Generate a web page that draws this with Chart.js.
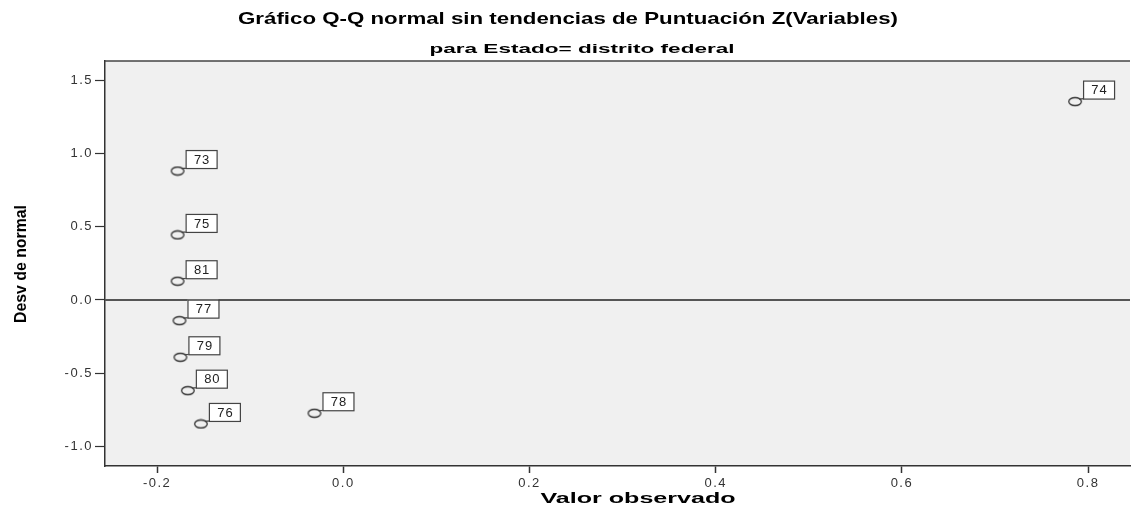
<!DOCTYPE html>
<html lang="es">
<head>
<meta charset="utf-8">
<title>Gráfico Q-Q normal sin tendencias</title>
<script src="https://cdn.jsdelivr.net/npm/chart.js@4.4.1/dist/chart.umd.min.js"></script>
<style>
  html, body { margin: 0; padding: 0; background: #ffffff; }
  #wrap { width: 1137px; height: 514px; position: relative; }
</style>
</head>
<body>
<div id="wrap"><canvas id="qqChart"></canvas></div>
<script>
// --------------
// DATA
// --------------
const caseIds = ["73", "75", "81", "77", "79", "80", "76", "78", "74"];
const observed = [-0.178, -0.178, -0.178, -0.176, -0.175, -0.167, -0.153, -0.031, 0.786];
const deviation = [0.88, 0.444, 0.128, -0.141, -0.391, -0.619, -0.846, -0.773, 1.354];

const xTickValues = [-0.2, 0.0, 0.2, 0.4, 0.6, 0.8];
const yTickValues = [-1.0, -0.5, 0.0, 0.5, 1.0, 1.5];

const titleText = "Gráfico Q-Q normal sin tendencias de Puntuación Z(Variables)";
const subtitleText = "para Estado= distrito federal";
const xTitleText = "Valor observado";
const yTitleText = "Desv de normal";

const points = observed.map((x, i) => ({ x: x, y: deviation[i] }));

// --------------
// MARKER (open ellipse)
// --------------
function makeMarker() {
  const c = document.createElement('canvas');
  c.width = 16;
  c.height = 11;
  const g = c.getContext('2d');
  g.beginPath();
  g.ellipse(8, 5.5, 6.3, 4, 0, 0, Math.PI * 2);
  g.fillStyle = '#f0f0f0';
  g.fill();
  g.lineWidth = 1.3;
  g.strokeStyle = '#333333';
  g.stroke();
  return c;
}

// --------------
// HELPERS
// --------------
// draws text squeezed / stretched to a given width
function drawFitted(ctx, text, cx, cy, width, font, rotate) {
  ctx.save();
  ctx.letterSpacing = '0px';
  ctx.font = font;
  const w = ctx.measureText(text).width;
  ctx.translate(cx, cy);
  if (rotate) ctx.rotate(-Math.PI / 2);
  ctx.scale(width / w, 1);
  ctx.fillStyle = '#000000';
  ctx.textAlign = 'center';
  ctx.textBaseline = 'middle';
  ctx.fillText(text, 0, 0);
  ctx.restore();
}

// plot background + frame
const plotFrame = {
  id: 'plotFrame',
  beforeDraw(chart) {
    const { ctx, chartArea: a } = chart;
    ctx.letterSpacing = '1.5px';
    ctx.save();
    ctx.fillStyle = '#f0f0f0';
    ctx.fillRect(a.left, a.top, a.right - a.left, a.bottom - a.top);
    ctx.restore();
  },
  beforeDatasetsDraw(chart) {
    const { ctx, chartArea: a, scales } = chart;
    const y0 = scales.y.getPixelForValue(0);
    ctx.save();
    // reference line at zero
    ctx.strokeStyle = '#555555';
    ctx.lineWidth = 2;
    ctx.beginPath();
    ctx.moveTo(a.left, y0);
    ctx.lineTo(a.right, y0);
    ctx.stroke();
    // top border
    ctx.strokeStyle = '#444444';
    ctx.lineWidth = 1.5;
    ctx.beginPath();
    ctx.moveTo(a.left, a.top);
    ctx.lineTo(a.right, a.top);
    ctx.stroke();
    ctx.restore();
  }
};

// case number boxes next to each point
const caseLabels = {
  id: 'caseLabels',
  afterDatasetsDraw(chart) {
    const { ctx } = chart;
    const meta = chart.getDatasetMeta(0);
    ctx.save();
    ctx.letterSpacing = '1px';
    ctx.font = '13px "Liberation Sans", Arial, sans-serif';
    ctx.textAlign = 'center';
    ctx.textBaseline = 'middle';
    meta.data.forEach((el, i) => {
      const px = el.x, py = el.y;
      const bx = px + 8, by = py - 21, bw = 31, bh = 18;
      ctx.strokeStyle = '#444444';
      ctx.lineWidth = 1.2;
      ctx.beginPath();
      ctx.moveTo(px + 4, py - 2.5);
      ctx.lineTo(bx + 1, by + bh);
      ctx.stroke();
      ctx.fillStyle = '#ffffff';
      ctx.fillRect(bx, by, bw, bh);
      ctx.strokeRect(bx + 0.5, by + 0.5, bw, bh);
      ctx.fillStyle = '#222222';
      ctx.fillText(caseIds[i], bx + bw / 2 + 1, by + bh / 2 + 1);
    });
    ctx.restore();
  }
};

// titles drawn stretched, the way the stats package prints them
const titles = {
  id: 'titles',
  afterDraw(chart) {
    const ctx = chart.ctx;
    drawFitted(ctx, titleText, 568, 19, 660, 'bold 17px "Liberation Sans", Arial, sans-serif');
    drawFitted(ctx, subtitleText, 582, 49, 305, 'bold 13px "Liberation Sans", Arial, sans-serif');
    drawFitted(ctx, xTitleText, 638, 499, 195, 'bold 15px "Liberation Sans", Arial, sans-serif');
    drawFitted(ctx, yTitleText, 21, 264, 118, 'bold 17px "Liberation Sans", Arial, sans-serif', true);
  }
};

// --------------
// CHART
// --------------
const ctx = document.getElementById('qqChart').getContext('2d');

const chart = new Chart(ctx, {
  type: 'scatter',
  data: {
    datasets: [{
      label: 'Desv de normal',
      data: points,
      pointStyle: makeMarker(),
      pointRadius: 6,
      pointHoverRadius: 6
    }]
  },
  options: {
    responsive: true,
    maintainAspectRatio: false,
    animation: false,
    events: [],
    layout: { padding: { top: 61, left: 0, right: 0, bottom: 0 } },
    plugins: {
      legend: { display: false },
      tooltip: { enabled: false }
    },
    scales: {
      x: {
        type: 'linear',
        min: -0.256,
        max: 0.845,
        afterBuildTicks: s => { s.ticks = xTickValues.map(v => ({ value: v })); },
        afterFit: s => { s.height = 48; },
        ticks: {
          color: '#333333',
          padding: 3,
          font: { family: '"Liberation Sans", Arial, sans-serif', size: 13 },
          callback: v => Number(v).toFixed(1)
        },
        grid: {
          drawOnChartArea: false,
          drawTicks: true,
          tickLength: 7,
          tickWidth: 1.5,
          tickColor: '#333333'
        },
        border: { display: true, color: '#333333', width: 1.5 }
      },
      y: {
        type: 'linear',
        min: -1.133,
        max: 1.631,
        afterBuildTicks: s => { s.ticks = yTickValues.map(v => ({ value: v })); },
        afterFit: s => { s.width = 105; },
        ticks: {
          color: '#333333',
          padding: 2,
          font: { family: '"Liberation Sans", Arial, sans-serif', size: 13 },
          callback: v => Number(v).toFixed(1)
        },
        grid: {
          drawOnChartArea: false,
          drawTicks: true,
          tickLength: 10,
          tickWidth: 1.2,
          tickColor: '#333333'
        },
        border: { display: true, color: '#333333', width: 1.5 }
      }
    }
  },
  plugins: [plotFrame, caseLabels, titles]
});
</script>
</body>
</html>
